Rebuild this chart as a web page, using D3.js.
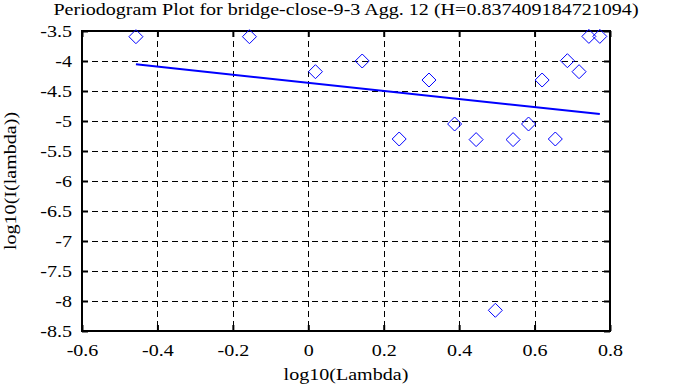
<!DOCTYPE html>
<html>
<head>
<meta charset="utf-8">
<script src="https://cdn.jsdelivr.net/npm/d3@7"></script>
<style>
  body { margin: 0; background: #fff; }
  svg { display: block; }
  svg text { font-family: "Liberation Serif", "Times New Roman", serif; }
</style>
</head>
<body>
<div class="chart"></div>
<script>
// periodogram points
const logLambda = [-0.457, -0.156, 0.019, 0.143, 0.241, 0.320, 0.388, 0.445, 0.496, 0.543, 0.584, 0.620, 0.655, 0.687, 0.718, 0.744, 0.773];
const logI = [-3.595, -3.595, -4.178, -4.0, -5.30, -4.317, -5.05, -5.31, -8.155, -5.31, -5.05, -4.317, -5.30, -3.995, -4.178, -3.59, -3.59];

// fitted line end points
const fitX = [-0.457, 0.773];
const fitY = [-4.055, -4.885];

const xTicks = [-0.6, -0.4, -0.2, 0, 0.2, 0.4, 0.6, 0.8];
const yTicks = [-3.5, -4, -4.5, -5, -5.5, -6, -6.5, -7, -7.5, -8, -8.5];

const title = 'Periodogram Plot for bridge-close-9-3 Agg. 12 (H=0.837409184721094)';

function drawChart() {
  const w = 688;
  const h = 387;
  const margin = { top: 31, right: 78, bottom: 56, left: 82 };
  const fontSize = '17px';
  const stretch = 1.18; // the original font is wider than Liberation Serif

  const svg = d3.select('.chart')
    .append('svg')
    .attr('width', w)
    .attr('height', h);

  const x = d3.scaleLinear().domain([-0.6, 0.8]).range([margin.left, w - margin.right]);
  const y = d3.scaleLinear().domain([-8.5, -3.5]).range([h - margin.bottom, margin.top]);

  const x0 = x.range()[0], x1 = x.range()[1];
  const y0 = y.range()[1], y1 = y.range()[0];

  // dashed grid
  const grid = svg.append('g')
    .attr('stroke', '#000')
    .attr('stroke-width', 1)
    .attr('stroke-dasharray', '6,4');

  grid.selectAll('.vg')
    .data(xTicks.slice(1, -1))
    .enter()
    .append('line')
    .attr('x1', d => Math.round(x(d)) + 0.5)
    .attr('x2', d => Math.round(x(d)) + 0.5)
    .attr('y1', y0)
    .attr('y2', y1);

  grid.selectAll('.hg')
    .data(yTicks.slice(1, -1))
    .enter()
    .append('line')
    .attr('x1', x0)
    .attr('x2', x1)
    .attr('y1', d => Math.round(y(d)) + 0.5)
    .attr('y2', d => Math.round(y(d)) + 0.5);

  // axes, ticks pointing inward on all four sides
  const tk = 6;
  const fmt = d => String(d);
  const styleAxis = g => g
    .attr('font-family', '"Liberation Serif", serif')
    .attr('font-size', fontSize)
    .call(a => a.select('.domain').remove());

  svg.append('g')
    .attr('transform', `translate(0, ${y1})`)
    .call(d3.axisBottom(x).tickValues(xTicks).tickSizeInner(-tk).tickSizeOuter(0).tickPadding(13).tickFormat(fmt))
    .call(styleAxis);
  svg.append('g')
    .attr('transform', `translate(0, ${y0})`)
    .call(d3.axisTop(x).tickValues(xTicks).tickSizeInner(-tk).tickSizeOuter(0).tickFormat(''))
    .call(styleAxis);
  svg.append('g')
    .attr('transform', `translate(${x0}, 0)`)
    .call(d3.axisLeft(y).tickValues(yTicks).tickSizeInner(-tk).tickSizeOuter(0).tickPadding(10).tickFormat(fmt))
    .call(styleAxis);
  svg.append('g')
    .attr('transform', `translate(${x1}, 0)`)
    .call(d3.axisRight(y).tickValues(yTicks).tickSizeInner(-tk).tickSizeOuter(0).tickFormat(''))
    .call(styleAxis);

  svg.selectAll('.tick line').attr('stroke', '#000').attr('stroke-width', 2);
  svg.selectAll('.tick text')
    .attr('fill', '#000')
    .style('font-family', '"Liberation Serif", serif');

  svg.append('rect')
    .attr('x', x0)
    .attr('y', y0)
    .attr('width', x1 - x0)
    .attr('height', y1 - y0)
    .attr('fill', 'none')
    .attr('stroke', '#000')
    .attr('stroke-width', 2);

  // fitted line
  svg.append('line')
    .attr('x1', x(fitX[0]))
    .attr('y1', y(fitY[0]))
    .attr('x2', x(fitX[1]))
    .attr('y2', y(fitY[1]))
    .attr('stroke', '#0000ff')
    .attr('stroke-width', 2);

  // diamonds
  const r = 7;
  svg.append('g')
    .selectAll('path')
    .data(logLambda.map((d, i) => [d, logI[i]]))
    .enter()
    .append('path')
    .attr('d', d => {
      const cx = x(d[0]), cy = y(d[1]);
      return `M${cx},${cy - r}L${cx + r},${cy}L${cx},${cy + r}L${cx - r},${cy}Z`;
    })
    .attr('fill', 'none')
    .attr('stroke', '#0000ff')
    .attr('stroke-width', 1);

  // titles
  svg.append('text')
    .attr('x', (x0 + x1) / 2)
    .attr('y', 15)
    .attr('text-anchor', 'middle')
    .style('font-size', fontSize)
    .text(title);

  svg.append('text')
    .attr('x', (x0 + x1) / 2)
    .attr('y', 380)
    .attr('text-anchor', 'middle')
    .style('font-size', fontSize)
    .text('log10(Lambda)');

  svg.append('text')
    .attr('transform', `translate(16, ${(y0 + y1) / 2}) rotate(-90)`)
    .attr('text-anchor', 'middle')
    .style('font-size', fontSize)
    .text('log10(I(lambda))');

  // widen every label to the original's proportions
  svg.selectAll('text').each(function() {
    const len = this.getComputedTextLength();
    if (len > 0) {
      d3.select(this)
        .attr('textLength', len * stretch)
        .attr('lengthAdjust', 'spacingAndGlyphs');
    }
  });
}

drawChart();
</script>
</body>
</html>
